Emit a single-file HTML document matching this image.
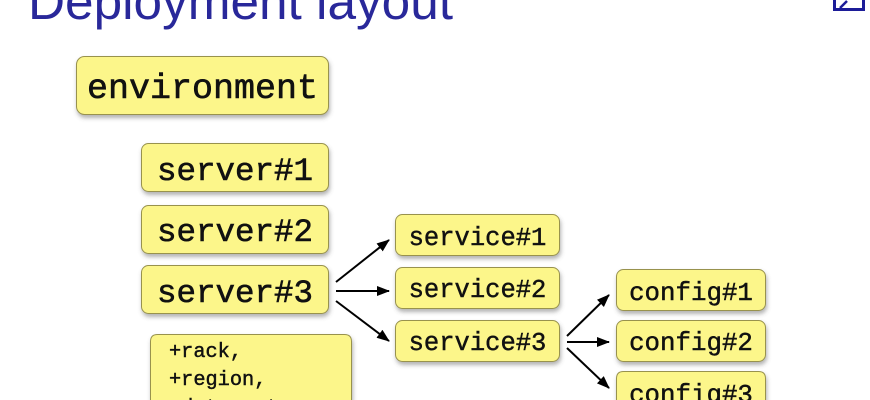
<!DOCTYPE html>
<html>
<head>
<meta charset="utf-8">
<style>
  html, body { margin: 0; padding: 0; background: #ffffff; }
  body { width: 870px; height: 400px; overflow: hidden; }
  svg { display: block; }
  .box { fill: #fcf68a; stroke: #98924e; stroke-width: 1; filter: url(#sh); }
  .mono { font-family: "Liberation Mono", "DejaVu Sans Mono", monospace; fill: #111; stroke: #111; stroke-width: 0.6; }
  .sm { stroke-width: 0.45; }
  .arr { stroke: #000; stroke-width: 2; fill: none; marker-end: url(#ah); }
</style>
</head>
<body>
<svg width="870" height="400" viewBox="0 0 870 400" xmlns="http://www.w3.org/2000/svg">
  <defs>
    <filter id="sh" x="-10%" y="-20%" width="125%" height="160%">
      <feDropShadow dx="1" dy="3" stdDeviation="2" flood-color="#555" flood-opacity="0.45"/>
    </filter>
    <marker id="ah" markerWidth="13" markerHeight="10" refX="12" refY="5" orient="auto" markerUnits="userSpaceOnUse">
      <path d="M0,0 L13,5 L0,10 Z" fill="#000"/>
    </marker>
    <clipPath id="frame"><rect x="0" y="0" width="870" height="400"/></clipPath>
  </defs>

  <g clip-path="url(#frame)">
  <!-- title -->
  <text x="28" y="19" font-family="Liberation Sans, DejaVu Sans, sans-serif" font-size="51" fill="#29289a" textLength="425" lengthAdjust="spacingAndGlyphs">Deployment layout</text>

  <!-- icon top right -->
  <rect x="834.5" y="-20" width="29" height="29.5" fill="#fff" stroke="#1c1c98" stroke-width="3"/>
  <path d="M840,8 L847,1" stroke="#1c1c98" stroke-width="2.5"/>

  <!-- environment -->
  <rect class="box" x="76.5" y="56.5" width="252" height="58" rx="8"/>
  <text class="mono" x="202.5" y="98" font-size="35" text-anchor="middle">environment</text>

  <!-- servers -->
  <rect class="box" x="141.5" y="143.5" width="187" height="48" rx="7"/>
  <text class="mono" x="235" y="180" font-size="32.5" text-anchor="middle">server#1</text>
  <rect class="box" x="141.5" y="205.5" width="187" height="48" rx="7"/>
  <text class="mono" x="235" y="241" font-size="32.5" text-anchor="middle">server#2</text>
  <rect class="box" x="141.5" y="265.5" width="187" height="48" rx="7"/>
  <text class="mono" x="235" y="302" font-size="32.5" text-anchor="middle">server#3</text>

  <!-- note (open bottom, continues past frame) -->
  <path class="box" d="M150.5,401 L150.5,341.5 Q150.5,334.5 157.5,334.5 L344.5,334.5 Q351.5,334.5 351.5,341.5 L351.5,401"/>
  <text class="mono sm" x="169" y="357" font-size="20.3">+rack,</text>
  <text class="mono sm" x="169" y="385" font-size="20.3">+region,</text>
  <text class="mono sm" x="169" y="400" font-size="20.3" dy="13">+datacenter,</text>

  <!-- services -->
  <rect class="box" x="395.5" y="214.5" width="164" height="41" rx="7"/>
  <text class="mono sm" x="477.5" y="245" font-size="25.5" text-anchor="middle">service#1</text>
  <rect class="box" x="395.5" y="267.5" width="164" height="41" rx="7"/>
  <text class="mono sm" x="477.5" y="297" font-size="25.5" text-anchor="middle">service#2</text>
  <rect class="box" x="395.5" y="320.5" width="164" height="41" rx="7"/>
  <text class="mono sm" x="477.5" y="350" font-size="25.5" text-anchor="middle">service#3</text>

  <!-- configs -->
  <rect class="box" x="616.5" y="269.5" width="149" height="41" rx="7"/>
  <text class="mono sm" x="691" y="300" font-size="25.8" text-anchor="middle">config#1</text>
  <rect class="box" x="616.5" y="320.5" width="149" height="41" rx="7"/>
  <text class="mono sm" x="691" y="350" font-size="25.8" text-anchor="middle">config#2</text>
  <path class="box" d="M616.5,401 L616.5,378.5 Q616.5,371.5 623.5,371.5 L758.5,371.5 Q765.5,371.5 765.5,378.5 L765.5,401"/>
  <text class="mono sm" x="691" y="400" dy="2" font-size="25.8" text-anchor="middle">config#3</text>

  <!-- arrows server#3 -> services -->
  <line class="arr" x1="336" y1="282" x2="389" y2="240"/>
  <line class="arr" x1="336" y1="291" x2="389" y2="291"/>
  <line class="arr" x1="336" y1="301" x2="389" y2="341"/>

  <!-- arrows service#3 -> configs -->
  <line class="arr" x1="567" y1="336" x2="609" y2="295"/>
  <line class="arr" x1="567" y1="342" x2="609" y2="342"/>
  <line class="arr" x1="567" y1="348" x2="609" y2="388"/>
  </g>
</svg>
</body>
</html>
